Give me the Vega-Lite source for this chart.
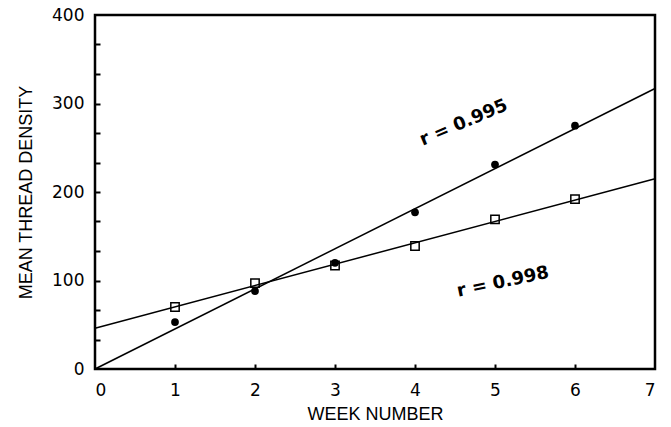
{
  "$schema": "https://vega.github.io/schema/vega-lite/v6.json",
  "width": 560,
  "height": 354,
  "autosize": {"type": "none"},
  "padding": {"left": 95, "top": 15, "right": 16, "bottom": 58},
  "background": "white",
  "config": {
    "view": {"stroke": "black", "strokeWidth": 2.5},
    "axis": {
      "grid": false,
      "domain": false,
      "labelFont": "DejaVu Sans",
      "titleFont": "Liberation Sans",
      "labelColor": "black",
      "titleColor": "black",
      "tickColor": "black",
      "tickWidth": 2,
      "titleFontWeight": "normal"
    }
  },
  "resolve": {"axis": {"x": "independent", "y": "independent"}},
  "layer": [
    {
      "data": {"values": [
        {"series": "circle", "week": 0, "density": 0},
        {"series": "circle", "week": 7, "density": 317},
        {"series": "square", "week": 0, "density": 46},
        {"series": "square", "week": 7, "density": 215}
      ]},
      "mark": {"type": "line", "color": "black", "strokeWidth": 1.5},
      "encoding": {
        "x": {
          "field": "week",
          "type": "quantitative",
          "scale": {"domain": [0, 7], "nice": false},
          "axis": {
            "title": "WEEK NUMBER",
            "values": [0, 1, 2, 3, 4, 5, 6, 7],
            "ticks": false,
            "labelFontSize": 17,
            "titleFontSize": 18,
            "labelPadding": 13,
            "titlePadding": 7
          }
        },
        "y": {
          "field": "density",
          "type": "quantitative",
          "scale": {"domain": [0, 400], "nice": false},
          "axis": {
            "title": "MEAN THREAD DENSITY",
            "values": [0, 100, 200, 300, 400],
            "ticks": false,
            "labelFontSize": 17,
            "titleFontSize": 18,
            "labelPadding": 11,
            "titlePadding": 16
          }
        },
        "detail": {"field": "series"}
      }
    },
    {
      "data": {"values": [
        {"week": 1, "density": 53},
        {"week": 2, "density": 88},
        {"week": 3, "density": 120},
        {"week": 4, "density": 177},
        {"week": 5, "density": 231},
        {"week": 6, "density": 275}
      ]},
      "mark": {"type": "point", "shape": "circle", "filled": true, "color": "black", "size": 60, "opacity": 1},
      "encoding": {
        "x": {
          "field": "week",
          "type": "quantitative",
          "scale": {"domain": [0, 7], "nice": false},
          "axis": {"orient": "top", "offset": -354, "values": [1, 2, 3, 4, 5, 6], "labels": false, "title": null, "tickSize": 5}
        },
        "y": {
          "field": "density",
          "type": "quantitative",
          "scale": {"domain": [0, 400], "nice": false},
          "axis": {"orient": "right", "offset": -560, "values": [33.333, 66.667, 100, 133.333, 166.667, 200, 233.333, 266.667, 300, 333.333, 366.667], "labels": false, "title": null, "tickSize": 5}
        }
      }
    },
    {
      "data": {"values": [
        {"week": 1, "density": 70},
        {"week": 2, "density": 97},
        {"week": 3, "density": 117},
        {"week": 4, "density": 139},
        {"week": 5, "density": 169},
        {"week": 6, "density": 192}
      ]},
      "mark": {"type": "point", "shape": "square", "filled": false, "color": "black", "strokeWidth": 1.5, "size": 70, "opacity": 1},
      "encoding": {
        "x": {"field": "week", "type": "quantitative", "axis": null},
        "y": {"field": "density", "type": "quantitative", "axis": null}
      }
    },
    {
      "data": {"values": [{"week": 4.61, "density": 278, "label": "r = 0.995"}]},
      "mark": {"type": "text", "font": "DejaVu Sans", "fontWeight": "bold", "fontSize": 18, "angle": -23, "align": "center", "baseline": "middle", "color": "black"},
      "encoding": {
        "x": {"field": "week", "type": "quantitative", "axis": null},
        "y": {"field": "density", "type": "quantitative", "axis": null},
        "text": {"field": "label"}
      }
    },
    {
      "data": {"values": [{"week": 5.1, "density": 98, "label": "r = 0.998"}]},
      "mark": {"type": "text", "font": "DejaVu Sans", "fontWeight": "bold", "fontSize": 18, "angle": -12, "align": "center", "baseline": "middle", "color": "black"},
      "encoding": {
        "x": {"field": "week", "type": "quantitative", "axis": null},
        "y": {"field": "density", "type": "quantitative", "axis": null},
        "text": {"field": "label"}
      }
    }
  ]
}
